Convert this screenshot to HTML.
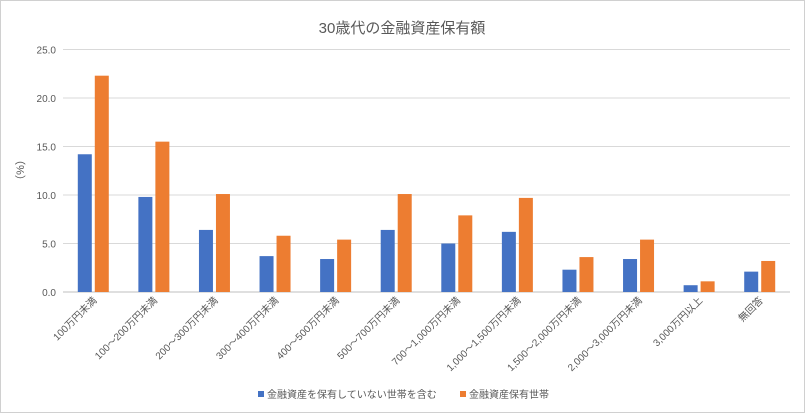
<!DOCTYPE html>
<html><head><meta charset="utf-8"><style>
body{margin:0;background:#fff}
svg{display:block;font-family:"Liberation Sans","Noto Sans CJK JP",sans-serif}
</style></head><body>
<svg id="c" width="805" height="413">
<rect x="0.5" y="0.5" width="804" height="412" fill="#fff" stroke="#d0d0d0"/>
<text x="402" y="33" text-anchor="middle" font-size="15" fill="#595959">30歳代の金融資産保有額</text>
<text transform="translate(24,170) rotate(-90)" text-anchor="middle" font-size="11" fill="#595959">（%）</text>
<g id="grid"></g><g id="bars"></g><g id="xl"></g>
<g>
<rect x="258" y="391" width="6" height="6" fill="#4472c4"/>
<text x="267" y="398" font-size="10" fill="#595959">金融資産を保有していない世帯を含む</text>
<rect x="460" y="391" width="6" height="6" fill="#ed7d31"/>
<text x="469" y="398" font-size="10" fill="#595959">金融資産保有世帯</text>
</g>
</svg>
<script>
const categories=["100万円未満","100～200万円未満","200～300万円未満","300～400万円未満","400～500万円未満","500～700万円未満","700～1,000万円未満","1,000～1,500万円未満","1,500～2,000万円未満","2,000～3,000万円未満","3,000万円以上","無回答"];
const seriesAll=[14.2,9.8,6.4,3.7,3.4,6.4,5.0,6.2,2.3,3.4,0.7,2.1];
const seriesHolders=[22.3,15.5,10.1,5.8,5.4,10.1,7.9,9.7,3.6,5.4,1.1,3.2];
const ticks=[0,5,10,15,20,25];
const NS="http://www.w3.org/2000/svg";
const x0=63,x1=790,y0=292,yTop=49.5,maxV=25;
const cw=(x1-x0)/categories.length;
const y=v=>y0-(v/maxV)*(y0-yTop);
const cx=i=>x0+cw*(i+0.5);
function mk(t,a,p){const e=document.createElementNS(NS,t);for(const k in a)e.setAttribute(k,a[k]);p.appendChild(e);return e;}
const g=document.getElementById('grid');
ticks.forEach(t=>{
 const l=mk('line',{x1:x0,x2:x1,y1:y(t),y2:y(t),stroke:t===0?'#bfbfbf':'#d9d9d9','stroke-width':1},g);
 
 
 const tx=mk('text',{x:56,y:y(t)+4,'text-anchor':'end','font-size':10,fill:'#595959'},g);
 tx.textContent=t.toFixed(1);
 
 
});
const b=document.getElementById('bars'),xl=document.getElementById('xl');
categories.forEach((c,i)=>{
 const r1=mk('rect',{x:cx(i)-15.5,y:y(seriesAll[i]),width:14,height:y0-y(seriesAll[i]),fill:'#4472c4'},b);
 
 
 const r2=mk('rect',{x:cx(i)+1.5,y:y(seriesHolders[i]),width:14,height:y0-y(seriesHolders[i]),fill:'#ed7d31'},b);
 
 
 const t=mk('text',{transform:`translate(${cx(i)+4},${y0+9}) rotate(-45)`,'text-anchor':'end','font-size':10,fill:'#595959'},xl);
 t.textContent=c;
 
 
});
</script>
</body></html>
